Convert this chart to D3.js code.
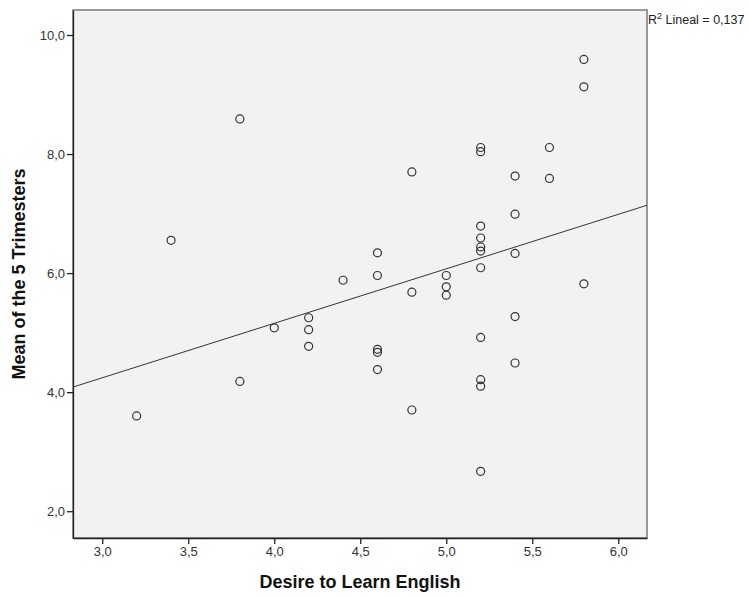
<!DOCTYPE html>
<html>
<head>
<meta charset="utf-8">
<script src="https://cdn.jsdelivr.net/npm/d3@7"></script>
<style>
  body { margin: 0; background: #fff; }
  text { font-family: "Liberation Sans", Arial, sans-serif; }
</style>
</head>
<body>
<div id="chart"></div>
<script>
// set width/height
const WIDTH = 748;
const HEIGHT = 596;
// plot frame
const MARGIN = { TOP: 10, RIGHT: 101, BOTTOM: 58, LEFT: 73 };

// data
const desire = [3.2, 3.4, 3.8, 3.8, 4.0, 4.2, 4.2, 4.2, 4.4,
    4.6, 4.6, 4.6, 4.6, 4.6, 4.8, 4.8, 4.8, 5.0, 5.0, 5.0,
    5.2, 5.2, 5.2, 5.2, 5.2, 5.2, 5.2, 5.2, 5.2, 5.2, 5.2,
    5.4, 5.4, 5.4, 5.4, 5.4, 5.6, 5.6, 5.8, 5.8, 5.8];
const meanTrim = [3.60, 6.55, 8.59, 4.18, 5.08, 5.25, 5.05, 4.77, 5.88,
    6.34, 5.96, 4.72, 4.67, 4.38, 7.70, 5.68, 3.70, 5.96, 5.77, 5.63,
    8.11, 8.04, 6.79, 6.59, 6.44, 6.37, 6.09, 4.92, 4.21, 4.10, 2.67,
    7.63, 6.99, 6.33, 5.27, 4.49, 8.11, 7.59, 9.59, 9.13, 5.82];
const xTicks = [3.0, 3.5, 4.0, 4.5, 5.0, 5.5, 6.0];
const yTicks = [2.0, 4.0, 6.0, 8.0, 10.0];
const xDomain = [2.83, 6.167];
const yDomain = [1.55, 10.42];
const r2Label = "0,137";

let points = desire.map((d, i) => ({ x: d, y: meanTrim[i] }));

let xScale = d3.scaleLinear().domain(xDomain)
    .range([MARGIN.LEFT, WIDTH - MARGIN.RIGHT]);
let yScale = d3.scaleLinear().domain(yDomain)
    .range([HEIGHT - MARGIN.BOTTOM, MARGIN.TOP]);

let fmt = d => d.toFixed(1).replace(".", ",");

let svg = d3.select("#chart").append("svg")
    .attr("width", WIDTH)
    .attr("height", HEIGHT);

// plot background
svg.append("rect")
    .attr("x", MARGIN.LEFT)
    .attr("y", MARGIN.TOP)
    .attr("width", WIDTH - MARGIN.RIGHT - MARGIN.LEFT)
    .attr("height", HEIGHT - MARGIN.BOTTOM - MARGIN.TOP)
    .attr("fill", "#f2f2f2")
    .attr("stroke", "#7a7a7a")
    .attr("stroke-width", 1.5);

// least squares fit line
let mx = d3.mean(points, d => d.x), my = d3.mean(points, d => d.y);
let slope = d3.sum(points, d => (d.x - mx) * (d.y - my)) / d3.sum(points, d => (d.x - mx) ** 2);
let icpt = my - slope * mx;

svg.append("line")
    .attr("x1", xScale(xDomain[0]))
    .attr("y1", yScale(icpt + slope * xDomain[0]))
    .attr("x2", xScale(xDomain[1]))
    .attr("y2", yScale(icpt + slope * xDomain[1]))
    .attr("stroke", "#333")
    .attr("stroke-width", 1);

// points
svg.selectAll(".pt")
    .data(points)
    .enter()
    .append("circle")
    .attr("class", "pt")
    .attr("cx", d => xScale(d.x))
    .attr("cy", d => yScale(d.y))
    .attr("r", 4)
    .attr("fill", "none")
    .attr("stroke", "#333")
    .attr("stroke-width", 1.2);

// axes
let xAxis = d3.axisBottom(xScale).tickValues(xTicks).tickFormat(fmt)
    .tickSize(6).tickSizeOuter(0).tickPadding(3);
let yAxis = d3.axisLeft(yScale).tickValues(yTicks).tickFormat(fmt)
    .tickSize(6).tickSizeOuter(0).tickPadding(2);

let gx = svg.append("g")
    .attr("transform", "translate(0," + (HEIGHT - MARGIN.BOTTOM) + ")")
    .call(xAxis);
let gy = svg.append("g")
    .attr("transform", "translate(" + MARGIN.LEFT + ",0)")
    .call(yAxis);

[gx, gy].forEach(g => {
    g.select(".domain").attr("stroke", "#222").attr("stroke-width", 1.3);
    g.selectAll(".tick line").attr("stroke", "#222").attr("stroke-width", 1.3);
    g.selectAll(".tick text")
        .attr("fill", "#333")
        .attr("font-size", 13)
        .attr("font-family", "Liberation Sans, Arial, sans-serif");
});

// axis titles
svg.append("text")
    .attr("x", (MARGIN.LEFT + WIDTH - MARGIN.RIGHT) / 2)
    .attr("y", 588)
    .attr("text-anchor", "middle")
    .attr("font-size", 18)
    .attr("font-weight", "bold")
    .attr("fill", "#111")
    .text("Desire to Learn English");

svg.append("text")
    .attr("transform", "translate(25," + ((MARGIN.TOP + HEIGHT - MARGIN.BOTTOM) / 2) + ") rotate(-90)")
    .attr("text-anchor", "middle")
    .attr("font-size", 18)
    .attr("font-weight", "bold")
    .attr("fill", "#111")
    .text("Mean of the 5 Trimesters");

// R2 label
let r2 = svg.append("text")
    .attr("x", WIDTH - MARGIN.RIGHT + 1)
    .attr("y", 24)
    .attr("font-size", 12.5)
    .attr("fill", "#222");
r2.append("tspan").text("R");
r2.append("tspan").attr("font-size", 9).attr("dy", -5).text("2");
r2.append("tspan").attr("dy", 5).text(" Lineal = " + r2Label);
</script>
</body>
</html>
